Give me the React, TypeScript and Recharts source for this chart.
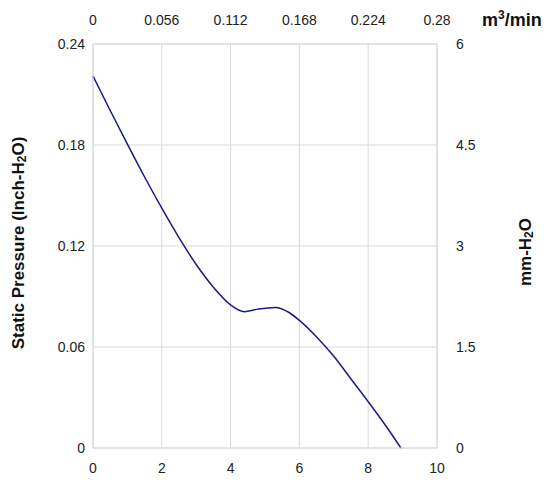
import React from 'react';
import { LineChart, Line, XAxis, YAxis, CartesianGrid } from 'recharts';

// airflow (CFM) and static pressure (inch-H2O)
const airflow = [0, 0.5, 1, 1.5, 2, 2.5, 3, 3.5, 4, 4.4, 4.8, 5.3, 5.7, 6, 6.5, 7, 7.5, 8, 8.5, 8.95];
const pressure = [
  0.221, 0.2005, 0.1805, 0.161, 0.1425, 0.125, 0.109, 0.0955, 0.085, 0.081,
  0.0825, 0.0835, 0.0805, 0.0758, 0.066, 0.0545, 0.041, 0.0275, 0.0135, 0,
];

const cfmTicks = [0, 2, 4, 6, 8, 10];
const m3Labels = ['0', '0.056', '0.112', '0.168', '0.224', '0.28'];
const inchTicks = [0, 0.06, 0.12, 0.18, 0.24];
const mmTicks = [0, 1.5, 3, 4.5, 6];

const data = airflow.map((x, i) => ({ cfm: x, pressure: pressure[i] }));

const FONT = 'Arial, "Liberation Sans", sans-serif';
const tickStyle = { fontSize: 14, fill: '#222', fontFamily: FONT };
const gridColor = '#d9d9d9';

export default function App() {
  return (
    <div style={{ position: 'absolute', left: 0, top: 0 }}>
      <LineChart
        width={547}
        height={482}
        data={data}
        margin={{ top: 0, right: 0, bottom: 0, left: 0 }}
      >
        <CartesianGrid xAxisId="bottom" yAxisId="left" stroke={gridColor} />
        <XAxis
          xAxisId="bottom"
          dataKey="cfm"
          type="number"
          domain={[0, 10]}
          ticks={cfmTicks}
          height={34}
          tickLine={false}
          tickSize={13}
          tickMargin={2}
          axisLine={{ stroke: gridColor }}
          tick={tickStyle}
        />
        {/* top axis shares the CFM scale; labels are the m3/min equivalents */}
        <XAxis
          xAxisId="top"
          dataKey="cfm"
          orientation="top"
          type="number"
          domain={[0, 10]}
          ticks={cfmTicks}
          tickFormatter={(v, i) => m3Labels[i]}
          height={44}
          tickLine={false}
          tickSize={17}
          tickMargin={2}
          axisLine={{ stroke: gridColor }}
          tick={tickStyle}
        />
        <YAxis
          yAxisId="left"
          type="number"
          domain={[0, 0.24]}
          ticks={inchTicks}
          width={93}
          tickLine={false}
          tickSize={6}
          tickMargin={2}
          axisLine={{ stroke: gridColor }}
          tick={tickStyle}
        />
        <YAxis
          yAxisId="right"
          orientation="right"
          type="number"
          domain={[0, 6]}
          ticks={mmTicks}
          allowDataOverflow
          width={110}
          tickLine={false}
          tickSize={17}
          tickMargin={2}
          axisLine={{ stroke: gridColor }}
          tick={tickStyle}
        />
        <Line
          xAxisId="bottom"
          yAxisId="left"
          type="monotone"
          dataKey="pressure"
          stroke="#1a1a8a"
          strokeWidth={1.5}
          dot={false}
          isAnimationActive={false}
        />
        <text
          x={482}
          y={26}
          fontFamily={FONT}
          fontWeight="bold"
          fontSize={18}
          fill="#111"
        >
          m<tspan dy={-7} fontSize={12}>3</tspan>
          <tspan dy={7}>/min</tspan>
        </text>
        <text
          transform="rotate(-90, 18, 243)"
          x={18}
          y={243}
          textAnchor="middle"
          dominantBaseline="central"
          fontFamily={FONT}
          fontWeight="bold"
          fontSize={17}
          fill="#111"
        >
          Static Pressure (Inch-H<tspan dy={4} fontSize={12}>2</tspan>
          <tspan dy={-4}>O)</tspan>
        </text>
        <text
          transform="rotate(-90, 525, 252)"
          x={525}
          y={252}
          textAnchor="middle"
          dominantBaseline="central"
          fontFamily={FONT}
          fontWeight="bold"
          fontSize={17}
          fill="#111"
        >
          mm-H<tspan dy={4} fontSize={12}>2</tspan>
          <tspan dy={-4}>O</tspan>
        </text>
      </LineChart>
    </div>
  );
}
